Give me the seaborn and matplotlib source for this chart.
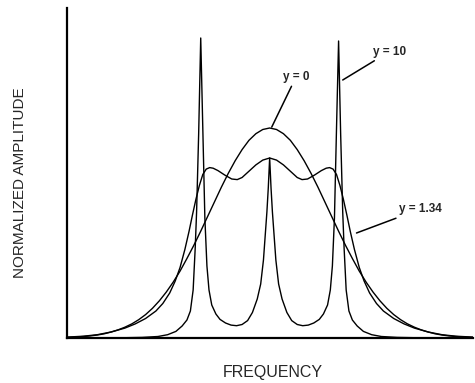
import matplotlib
matplotlib.use("Agg")
import matplotlib.pyplot as plt
import seaborn as sns
import pandas as pd

# ---- data (frequency in units of line spacing) ----
x_y0 = [-2.94, -2.9, -2.8, -2.7, -2.6, -2.5, -2.4, -2.3, -2.2, -2.1, -2.0, -1.9, -1.8, -1.7, -1.6,
        -1.5, -1.4, -1.3, -1.2, -1.1, -1.0, -0.9, -0.8, -0.7, -0.6, -0.5, -0.4, -0.3,
        -0.2, -0.1, 0.0, 0.1, 0.2, 0.3, 0.4, 0.5, 0.6, 0.7, 0.8, 0.9, 1.0, 1.1, 1.2,
        1.3, 1.4, 1.5, 1.6, 1.7, 1.8, 1.9, 2.0, 2.1, 2.2, 2.3, 2.4, 2.5, 2.6, 2.7, 2.8,
        2.9, 2.95]
a_y0 = [0.002, 0.0024, 0.0035, 0.005, 0.007, 0.010, 0.014, 0.020, 0.027, 0.036, 0.047, 0.061,
        0.078, 0.099, 0.124, 0.153, 0.186, 0.223, 0.265, 0.309, 0.356, 0.405, 0.454,
        0.503, 0.549, 0.591, 0.628, 0.659, 0.681, 0.695, 0.700, 0.695, 0.681, 0.659,
        0.628, 0.591, 0.549, 0.503, 0.454, 0.405, 0.356, 0.309, 0.265, 0.223, 0.186,
        0.153, 0.124, 0.099, 0.078, 0.061, 0.047, 0.036, 0.027, 0.020, 0.014, 0.010,
        0.007, 0.005, 0.0035, 0.0024, 0.002]

x_y134 = [-2.94, -2.7, -2.5, -2.3, -2.1, -1.95, -1.8, -1.65, -1.55, -1.45, -1.37, -1.30, -1.23,
          -1.17, -1.12, -1.07, -1.02, -0.97, -0.92, -0.87, -0.82, -0.75, -0.65, -0.55,
          -0.47, -0.40, -0.30, -0.20, -0.10, 0.0, 0.10, 0.20, 0.30, 0.40, 0.47, 0.55,
          0.65, 0.75, 0.82, 0.87, 0.92, 0.97, 1.02, 1.07, 1.12, 1.17, 1.23, 1.30, 1.37,
          1.45, 1.55, 1.65, 1.8, 1.95, 2.1, 2.3, 2.5, 2.7, 2.95]
a_y134 = [0.003, 0.006, 0.011, 0.020, 0.033, 0.047, 0.065, 0.090, 0.115, 0.150, 0.190, 0.235,
          0.295, 0.355, 0.410, 0.462, 0.508, 0.545, 0.563, 0.568, 0.566, 0.558, 0.543,
          0.530, 0.528, 0.535, 0.556, 0.577, 0.593, 0.600, 0.593, 0.577, 0.556, 0.535,
          0.528, 0.530, 0.543, 0.558, 0.566, 0.568, 0.563, 0.545, 0.508, 0.462, 0.410,
          0.355, 0.295, 0.235, 0.190, 0.150, 0.115, 0.090, 0.065, 0.047, 0.033, 0.020,
          0.011, 0.006, 0.003]

x_y10 = [-2.94, -2.2, -1.85, -1.62, -1.48, -1.36, -1.27, -1.20, -1.15, -1.11, -1.08, -1.06, -1.03,
         -1.00, -0.97, -0.94, -0.91, -0.88, -0.84, -0.78, -0.72, -0.64, -0.56, -0.48,
         -0.40, -0.32, -0.25, -0.18, -0.13, -0.09, -0.065, -0.04, -0.02, 0.0, 0.02, 0.04,
         0.065, 0.09, 0.13, 0.18, 0.25, 0.32, 0.40, 0.48, 0.56, 0.64, 0.72, 0.78, 0.84,
         0.88, 0.91, 0.94, 0.97, 1.00, 1.03, 1.06, 1.08, 1.11, 1.15, 1.20, 1.27, 1.36,
         1.48, 1.62, 1.85, 2.2, 2.95]
a_y10 = [0.0, 0.0005, 0.002, 0.005, 0.011, 0.022, 0.040, 0.060, 0.090, 0.160, 0.300, 0.420,
         0.680, 1.000, 0.700, 0.400, 0.240, 0.160, 0.110, 0.080, 0.062, 0.050, 0.043,
         0.041, 0.045, 0.058, 0.085, 0.130, 0.180, 0.260, 0.340, 0.420, 0.500, 0.600,
         0.500, 0.420, 0.340, 0.260, 0.180, 0.130, 0.085, 0.058, 0.045, 0.041, 0.043,
         0.050, 0.062, 0.080, 0.110, 0.160, 0.240, 0.400, 0.700, 0.990, 0.680, 0.420,
         0.300, 0.160, 0.090, 0.060, 0.040, 0.022, 0.011, 0.005, 0.002, 0.0005, 0.0]

labels = ["y = 0", "y = 10", "y = 1.34"]
x_label = "FREQUENCY"
y_label = "NORMALIZED AMPLITUDE"

# ---- figure ----
sns.set_style("white")
plt.rcParams["font.family"] = ["Liberation Sans", "DejaVu Sans"]

fig = plt.figure(figsize=(4.75, 3.83), dpi=100)
ax = fig.add_axes([67 / 475, 45 / 383, 406 / 475, 330 / 383])

for xs, ys in [(x_y0, a_y0), (x_y134, a_y134), (x_y10, a_y10)]:
    df = pd.DataFrame({"f": xs, "a": ys})
    sns.lineplot(data=df, x="f", y="a", ax=ax, color="black", linewidth=1.0,
                 sort=False, estimator=None)

ax.set_xlim(-2.94, 2.95)
ax.set_ylim(0, 1.1)
ax.set_xticks([])
ax.set_yticks([])
ax.set_xlabel("")
ax.set_ylabel("")
for s in ["top", "right"]:
    ax.spines[s].set_visible(False)
for s in ["left", "bottom"]:
    ax.spines[s].set_color("black")
    ax.spines[s].set_linewidth(1.6)

fig.text(273 / 475, 1 - 373 / 383, x_label, ha="center", va="center", fontsize=11.5)
fig.text(20 / 475, 1 - 183 / 383, y_label, ha="center", va="center", rotation=90,
         fontsize=11)

ann = dict(arrowprops=dict(arrowstyle="-", color="black", lw=1.1, shrinkA=0, shrinkB=0),
           fontsize=8.5, fontweight="bold", va="center", ha="left")
ax.annotate(labels[0], xy=(0.03, 0.703), xytext=(0.19, 0.87), **ann)
ax.annotate(labels[1], xy=(1.06, 0.86), xytext=(1.5, 0.955), **ann)
ax.annotate(labels[2], xy=(1.26, 0.35), xytext=(1.88, 0.43), **ann)

fig.savefig("out.png", dpi=100)
